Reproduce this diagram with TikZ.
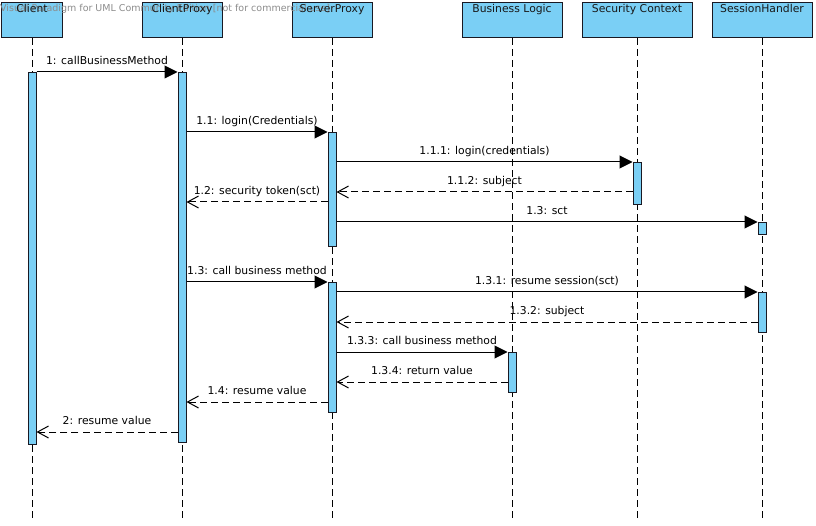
\documentclass[tikz,border=0pt]{standalone}
\usepackage{fontspec}
\setmainfont{DejaVu Sans}
\usetikzlibrary{arrows.meta}
\definecolor{barblue}{RGB}{122,207,245}
\definecolor{edge}{RGB}{25,25,35}
\begin{document}
\begin{tikzpicture}[x=1bp,y=-1bp,
  font=\fontsize{10.8bp}{13bp}\selectfont,
  head/.style={draw=edge, fill=barblue, line width=1bp, minimum height=35bp, inner sep=0pt, anchor=north},
  headtext/.style={anchor=base, inner sep=0pt, text=black!90},
  lifeline/.style={draw=black, line width=0.9bp, dash pattern=on 7bp off 4bp},
  actbar/.style={draw=edge, fill=barblue, line width=1bp, minimum width=8bp, inner sep=0pt, anchor=north},
  call/.style={draw=black, line width=1bp, -{Triangle[length=13bp,width=13bp]}},
  reply/.style={draw=black, line width=1bp, dash pattern=on 7bp off 4bp,
    -{Straight Barb[length=11bp,width=12bp,line width=1bp]}},
  msg/.style={anchor=base, inner sep=0pt, yshift=7.5bp}
]
\useasboundingbox (0,0) rectangle (816,526);

% participant heads
\node[head, minimum width=60bp]  (client)  at (32,2)  {};
\node[head, minimum width=80bp]  (cproxy)  at (182,2) {};
\node[head, minimum width=80bp]  (sproxy)  at (332,2) {};
\node[head, minimum width=100bp] (logic)   at (512,2) {};
\node[head, minimum width=110bp] (secctx)  at (637,2) {};
\node[head, minimum width=100bp] (session) at (762,2) {};

% edition banner
\node[anchor=base west, inner sep=0pt, text=black!45,
      font=\fontsize{9.5bp}{11bp}\selectfont] (banner) at (0,12)
  {Visual Paradigm for UML Community Edition [not for commercial use]};

% participant names
\node[headtext] (client-t)  at ([yshift=-11bp]client.north)  {Client};
\node[headtext] (cproxy-t)  at ([yshift=-11bp]cproxy.north)  {ClientProxy};
\node[headtext] (sproxy-t)  at ([yshift=-11bp]sproxy.north)  {ServerProxy};
\node[headtext] (logic-t)   at ([yshift=-11bp]logic.north)   {Business Logic};
\node[headtext] (secctx-t)  at ([yshift=-11bp]secctx.north)  {Security Context};
\node[headtext] (session-t) at ([yshift=-11bp]session.north) {SessionHandler};

% lifelines
\coordinate (bottom) at (0,521);
\foreach \p in {client,cproxy,sproxy,logic,secctx,session}
  \draw[lifeline] (\p.south) -- (\p.south |- bottom);

% activation bars
\node[actbar, minimum height=372bp] (a-client) at (32,72)  {};
\node[actbar, minimum height=370bp] (a-cproxy) at (182,72) {};
\node[actbar, minimum height=114bp] (a-sp1)    at (332,132) {};
\node[actbar, minimum height=42bp]  (a-sc)     at (637,162) {};
\node[actbar, minimum height=12bp]  (a-sh1)    at (762,222) {};
\node[actbar, minimum height=130bp] (a-sp2)    at (332,282) {};
\node[actbar, minimum height=40bp]  (a-sh2)    at (762,292) {};
\node[actbar, minimum height=40bp]  (a-bl)     at (512,352) {};

% messages
\draw[call] (a-client.north east) -- node[msg]{1: callBusinessMethod} (a-cproxy.north west);
\draw[call] (a-cproxy.east |- a-sp1.north) -- node[msg]{1.1: login(Credentials)} (a-sp1.north west);
\draw[call] (a-sp1.east |- a-sc.north) -- node[msg]{1.1.1: login(credentials)} (a-sc.north west);
\draw[reply] (a-sc.west |- 0,192) -- node[msg]{1.1.2: subject} (a-sp1.east |- 0,192);
\draw[reply] (a-sp1.west |- 0,202) -- node[msg]{1.2: security token(sct)} (a-cproxy.east |- 0,202);
\draw[call] (a-sp1.east |- a-sh1.north) -- node[msg]{1.3: sct} (a-sh1.north west);
\draw[call] (a-cproxy.east |- a-sp2.north) -- node[msg]{1.3: call business method} (a-sp2.north west);
\draw[call] (a-sp2.east |- a-sh2.north) -- node[msg]{1.3.1: resume session(sct)} (a-sh2.north west);
\draw[reply] (a-sh2.west |- 0,322) -- node[msg]{1.3.2: subject} (a-sp2.east |- 0,322);
\draw[call] (a-sp2.east |- a-bl.north) -- node[msg]{1.3.3: call business method} (a-bl.north west);
\draw[reply] (a-bl.west |- 0,382) -- node[msg]{1.3.4: return value} (a-sp2.east |- 0,382);
\draw[reply] (a-sp2.west |- 0,402) -- node[msg]{1.4: resume value} (a-cproxy.east |- 0,402);
\draw[reply] (a-cproxy.west |- 0,432) -- node[msg]{2: resume value} (a-client.east |- 0,432);
\end{tikzpicture}
\end{document}
